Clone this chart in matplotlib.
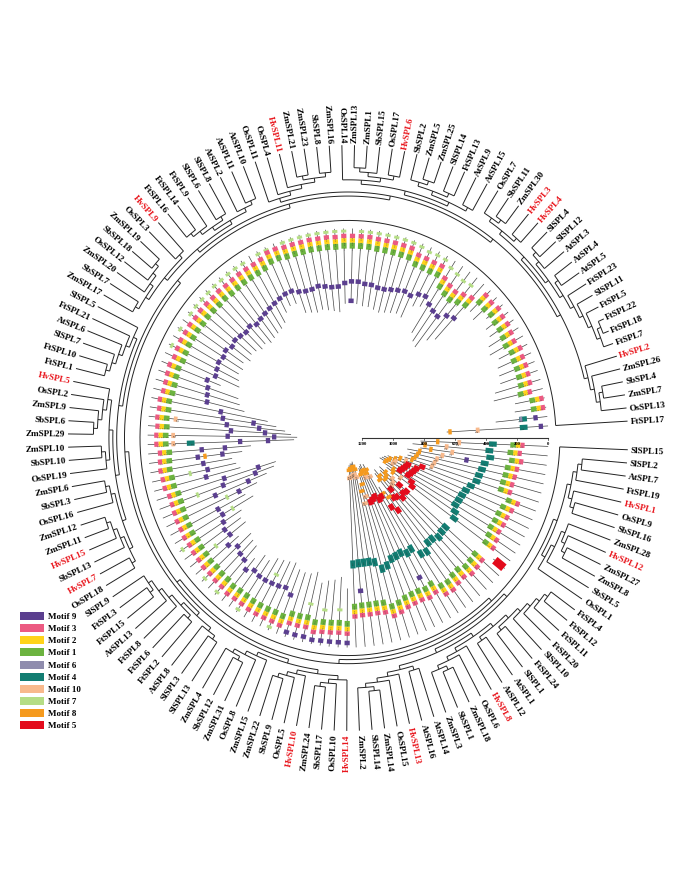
import matplotlib.pyplot as plt
import numpy as np

plt.rcParams['font.family'] = ['Liberation Serif', 'DejaVu Serif']

# ---- tree topology (nested tuples), leaves run clockwise from SlSPL15 to FtSPL17
GA = ((("SlSPL2", "AtSPL7"), "FtSPL19"), ("HvSPL1", ("OsSPL9", "SbSPL16")))
GB = ((("ZmSPL28", ("HvSPL12", ("ZmSPL27", "ZmSPL8"))), "SbSPL5"), "OsSPL1")
GC = (((((("FtSPL4", "FtSPL12"), "FtSPL11"), "FtSPL20"), "SlSPL10"),
       ("FtSPL24", "SlSPL1")), ("AtSPL1", "AtSPL12"))
GD = ("HvSPL8", ("OsSPL6", (("ZmSPL18", "SbSPL1"), "ZmSPL3")))
GE = ("AtSPL14", "AtSPL16")
GF = ("HvSPL13", ("OsSPL15", (("ZmSPL14", "SbSPL14"), "ZmSPL2")))
GG = ("HvSPL14", ("OsSPL10", ("SbSPL17", "ZmSPL24")))
GH = ("HvSPL10", ("OsSPL5", ("SbSPL9", "ZmSPL22")))
GI = ("ZmSPL15", ("OsSPL8", (("ZmSPL31", "SbSPL12"), "ZmSPL4")))
GJ = (("SlSPL13", "SlSPL3"), "AtSPL8")
GK = (("FtSPL2", "FtSPL6"), ("FtSPL8", ("AtSPL13", (("FtSPL15", "FtSPL3"), "SlSPL9"))))
GL = ((("OsSPL18", "HvSPL7"), ("SbSPL13", ("HvSPL15", ("ZmSPL11", "ZmSPL12")))),
      ("OsSPL16", ("SbSPL3", "ZmSPL6")))
GM = (("OsSPL19", ("SbSPL10", "ZmSPL10")), (((("ZmSPL29", "SbSPL6"), "ZmSPL9"), "OsSPL2"), "HvSPL5"))
GN = (((("FtSPL1", "FtSPL10"), "SlSPL7"), "AtSPL6"), "FtSPL21")
GO = ((("ZmSPL17", "SbSPL7"), ("ZmSPL20", ("OsSPL12", ("SbSPL18", "ZmSPL19")))), ("OsSPL3", "HvSPL9"))
GP = (((("FtSPL16", "FtSPL14"), "FtSPL9"), ("SlSPL6", "SlSPL8")), ("AtSPL2", ("AtSPL11", "AtSPL10")))
GQ = ("OsSPL11", ("OsSPL4", ("HvSPL11", (("ZmSPL21", "ZmSPL23"), ("SbSPL8", "ZmSPL16")))))
GR = ("OsSPL14", ((("ZmSPL13", "ZmSPL1"), "SbSPL15"), ("OsSPL17", "HvSPL6")))
GS = ((("SbSPL2", ("ZmSPL5", "ZmSPL25")), ("SlSPL14", "FtSPL13")), ("AtSPL9", "AtSPL15"))
GT = (("OsSPL7", ("SbSPL11", "ZmSPL30")), ("HvSPL3", "HvSPL4"))
GU = ((("SlSPL4", "SlSPL12"), "AtSPL3"),
      (("AtSPL4", "AtSPL5"), ("FtSPL23", ("SlSPL11", ("FtSPL5", (("FtSPL22", "FtSPL18"), "FtSPL7"))))))
GV = ("HvSPL2", ("ZmSPL26", (("SbSPL4", "ZmSPL7"), "OsSPL13")))

TREE = (("SlSPL15",
         (((GA, GB), ((GC, GD), (GE, GF))),
          (((GG, GH), GI),
           ((GJ, GK),
            (((GL, GM), (GN, "SlSPL5")),
             ((GO, GP), (GQ, ((GR, GS), ((GT, GU), GV))))))))),
        "FtSPL17")

# ---- protein lengths (aa) and motif starts (motif@start[+length])
LENGTHS = {
    "SlSPL15": 820, "SlSPL2": 870, "AtSPL7": 818, "FtSPL19": 900, "HvSPL1": 880,
    "OsSPL9": 890, "SbSPL16": 905, "ZmSPL28": 960, "HvSPL12": 1010, "ZmSPL27": 1030,
    "ZmSPL8": 1040, "SbSPL5": 1050, "OsSPL1": 1000, "FtSPL4": 980, "FtSPL12": 90,
    "FtSPL11": 1020, "FtSPL20": 1000, "SlSPL10": 990, "FtSPL24": 1030, "SlSPL1": 1010,
    "AtSPL1": 881, "AtSPL12": 927, "HvSPL8": 1100, "OsSPL6": 1080, "ZmSPL18": 1110,
    "SbSPL1": 1100, "ZmSPL3": 1090, "AtSPL14": 1035, "AtSPL16": 988, "HvSPL13": 1120,
    "OsSPL15": 1140, "ZmSPL14": 1130, "SbSPL14": 1130, "ZmSPL2": 1120, "HvSPL14": 360,
    "OsSPL10": 430, "SbSPL17": 410, "ZmSPL24": 400, "HvSPL10": 380, "OsSPL5": 440,
    "SbSPL9": 420, "ZmSPL22": 415, "ZmSPL15": 420, "OsSPL8": 450, "ZmSPL31": 440,
    "SbSPL12": 430, "ZmSPL4": 420, "SlSPL13": 380, "SlSPL3": 390, "AtSPL8": 333,
    "FtSPL2": 400, "FtSPL6": 410, "FtSPL8": 430, "AtSPL13": 359, "FtSPL15": 450,
    "FtSPL3": 440, "SlSPL9": 470, "OsSPL18": 580, "HvSPL7": 540, "SbSPL13": 640,
    "HvSPL15": 720, "ZmSPL11": 780, "ZmSPL12": 800, "OsSPL16": 570, "SbSPL3": 550,
    "ZmSPL6": 530, "OsSPL19": 600, "SbSPL10": 660, "ZmSPL10": 940, "ZmSPL29": 960,
    "SbSPL6": 920, "ZmSPL9": 880, "OsSPL2": 820, "HvSPL5": 760, "FtSPL1": 600,
    "FtSPL10": 560, "SlSPL7": 540, "AtSPL6": 405, "FtSPL21": 520, "SlSPL5": 500,
    "ZmSPL17": 480, "SbSPL7": 490, "ZmSPL20": 470, "OsSPL12": 500, "SbSPL18": 480,
    "ZmSPL19": 490, "OsSPL3": 510, "HvSPL9": 500, "FtSPL16": 520, "FtSPL14": 510,
    "FtSPL9": 500, "SlSPL6": 490, "SlSPL8": 470, "AtSPL2": 419, "AtSPL11": 393,
    "AtSPL10": 396, "OsSPL11": 470, "OsSPL4": 480, "HvSPL11": 490, "ZmSPL21": 480,
    "ZmSPL23": 490, "SbSPL8": 500, "ZmSPL16": 510, "OsSPL14": 460, "ZmSPL13": 450,
    "ZmSPL1": 460, "SbSPL15": 470, "OsSPL17": 470, "HvSPL6": 480, "SbSPL2": 490,
    "ZmSPL5": 480, "ZmSPL25": 470, "SlSPL14": 460, "FtSPL13": 470, "AtSPL9": 375,
    "AtSPL15": 354, "OsSPL7": 520, "SbSPL11": 560, "ZmSPL30": 580, "HvSPL3": 500,
    "HvSPL4": 460, "SlSPL4": 180, "SlSPL12": 200, "AtSPL3": 131, "AtSPL4": 174,
    "AtSPL5": 181, "FtSPL23": 220, "SlSPL11": 240, "FtSPL5": 200, "FtSPL22": 230,
    "FtSPL18": 240, "FtSPL7": 250, "HvSPL2": 300, "ZmSPL26": 320, "SbSPL4": 190,
    "ZmSPL7": 200, "OsSPL13": 330, "FtSPL17": 650,
}

MOTIFS = {
    "SlSPL15": "3@150 2@178 1@206 4@330 10@560 8@700",
    "SlSPL2": "3@165 2@193 1@221 4@350 10@640 8@780",
    "AtSPL7": "3@150 2@178 1@206 4@340 10@600 8@740",
    "FtSPL19": "3@170 2@198 1@226 4@370 9@500 10@660 8@810",
    "HvSPL1": "3@175 2@203 1@231 4@380 10@690 8@820",
    "OsSPL9": "3@180 2@208 1@236 4@390 10@700 8@830",
    "SbSPL16": "3@180 2@208 1@236 4@395 10@710 8@845",
    "ZmSPL28": "3@110 2@138 1@166 4@420 5@760 10@880 8@920",
    "HvSPL12": "3@130 2@158 1@186 4@440 5@790 5@850 8@950",
    "ZmSPL27": "3@140 2@168 1@196 4@450 5@800 5@860 10@940 8@980",
    "ZmSPL8": "3@140 2@168 1@196 4@455 5@810 5@870 10@950 8@990",
    "SbSPL5": "3@145 2@173 1@201 4@460 5@820 5@880 8@1000",
    "OsSPL1": "3@130 2@158 1@186 4@440 5@780 8@930",
    "FtSPL4": "3@120 2@148 1@176 4@420 5@760 10@860 8@920",
    "FtSPL12": "5@5+75",
    "FtSPL11": "3@130 2@158 1@186 4@430 5@770 5@830 10@900 8@960",
    "FtSPL20": "3@125 2@153 1@181 4@430 5@780 10@880 8@940",
    "SlSPL10": "3@120 2@148 1@176 4@420 5@760 10@870 8@930",
    "FtSPL24": "3@140 2@168 1@196 4@440 5@790 5@850 8@970",
    "SlSPL1": "3@135 2@163 1@191 4@440 5@800 8@950",
    "AtSPL1": "3@120 2@148 1@176 4@400 5@720 8@830",
    "AtSPL12": "3@125 2@153 1@181 4@410 5@760 8@870",
    "HvSPL8": "3@170 2@198 1@226 4@470 5@850 10@1000 8@1050",
    "OsSPL6": "3@160 2@188 1@216 9@300 4@460 5@840 8@1030",
    "ZmSPL18": "3@170 2@198 1@226 4@480 5@870 10@1010 8@1060",
    "SbSPL1": "3@170 2@198 1@226 4@475 5@860 8@1050",
    "ZmSPL3": "3@165 2@193 1@221 4@470 5@850 8@1040",
    "AtSPL14": "3@150 2@178 1@206 4@440 10@900 8@980",
    "AtSPL16": "3@140 2@168 1@196 4@430 10@860 8@940",
    "HvSPL13": "3@175 2@203 1@231 4@480 10@1030 8@1080",
    "OsSPL15": "3@180 2@208 1@236 4@490 10@1050 8@1100",
    "ZmSPL14": "3@180 2@208 1@236 4@490 10@1040 8@1090",
    "SbSPL14": "3@180 2@208 1@236 9@330 4@490 10@1040 8@1090",
    "ZmSPL2": "3@175 2@203 1@231 4@485 10@1030 8@1080",
    "HvSPL14": "9@12 3@70 2@98 1@126",
    "OsSPL10": "9@15 3@75 2@103 1@131 7@220",
    "SbSPL17": "9@15 3@72 2@100 1@128",
    "ZmSPL24": "9@14 3@70 2@98 1@126 7@210",
    "HvSPL10": "9@10 3@60 2@88 1@116",
    "OsSPL5": "9@18 3@80 2@108 1@136 7@230",
    "SbSPL9": "9@15 3@75 2@103 1@131",
    "ZmSPL22": "9@15 3@74 2@102 1@130",
    "ZmSPL15": "3@40 2@68 1@96 9@240",
    "OsSPL8": "7@10 3@45 2@73 1@101 9@270",
    "ZmSPL31": "3@42 2@70 1@98 9@260",
    "SbSPL12": "3@40 2@68 1@96 9@255 7@320",
    "ZmSPL4": "3@40 2@68 1@96 9@250",
    "SlSPL13": "7@8 3@45 2@73 1@101 9@250",
    "SlSPL3": "3@45 2@73 1@101 9@260",
    "AtSPL8": "3@40 2@68 1@96 9@230",
    "FtSPL2": "7@10 3@50 2@78 1@106 9@270",
    "FtSPL6": "3@50 2@78 1@106 9@280",
    "FtSPL8": "7@15 3@55 2@83 1@111 9@300",
    "AtSPL13": "3@50 2@78 1@106 9@260",
    "FtSPL15": "3@55 2@83 1@111 7@200 9@310",
    "FtSPL3": "3@55 2@83 1@111 9@300",
    "SlSPL9": "7@12 3@60 2@88 1@116 9@320",
    "OsSPL18": "3@55 2@83 1@111 9@340 7@420",
    "HvSPL7": "3@60 2@88 1@116 9@330",
    "SbSPL13": "3@60 2@88 1@116 7@420 9@500",
    "HvSPL15": "3@65 2@93 1@121 9@350 9@580",
    "ZmSPL11": "3@70 2@98 1@126 7@250 9@420 9@640",
    "ZmSPL12": "3@70 2@98 1@126 9@440 9@670",
    "OsSPL16": "3@55 2@83 1@111 9@330",
    "SbSPL3": "3@55 2@83 1@111 7@240 9@350",
    "ZmSPL6": "3@50 2@78 1@106 9@330",
    "OsSPL19": "3@55 2@83 1@111 9@300 8@350 9@460",
    "SbSPL10": "3@60 2@88 1@116 9@330 9@480",
    "ZmSPL10": "3@40 2@68 1@96 10@150 4@250 9@580 9@760",
    "ZmSPL29": "3@40 2@68 1@96 10@150 9@500 9@800",
    "SbSPL6": "3@45 2@73 1@101 9@520 9@740",
    "ZmSPL9": "3@40 2@68 1@96 10@160 9@490 9@700",
    "OsSPL2": "3@45 2@73 1@101 9@460 9@660",
    "HvSPL5": "3@40 2@68 1@96 9@440",
    "FtSPL1": "3@50 2@78 1@106 9@340",
    "FtSPL10": "3@50 2@78 1@106 9@330",
    "SlSPL7": "3@45 2@73 1@101 9@320",
    "AtSPL6": "3@40 2@68 1@96 9@300",
    "FtSPL21": "3@50 2@78 1@106 9@340",
    "SlSPL5": "7@10 3@45 2@73 1@101 9@330",
    "ZmSPL17": "3@40 2@68 1@96 9@320",
    "SbSPL7": "7@8 3@42 2@70 1@98 9@330",
    "ZmSPL20": "3@40 2@68 1@96 9@320",
    "OsSPL12": "7@10 3@45 2@73 1@101 9@340",
    "SbSPL18": "7@8 3@42 2@70 1@98 9@330",
    "ZmSPL19": "7@10 3@45 2@73 1@101 9@340",
    "OsSPL3": "7@10 3@48 2@76 1@104 9@350",
    "HvSPL9": "7@8 3@45 2@73 1@101 9@340",
    "FtSPL16": "7@10 3@50 2@78 1@106 9@360",
    "FtSPL14": "7@8 3@48 2@76 1@104 9@350",
    "FtSPL9": "7@8 3@45 2@73 1@101 9@340",
    "SlSPL6": "7@10 3@45 2@73 1@101 9@330",
    "SlSPL8": "3@45 2@73 1@101 9@320",
    "AtSPL2": "7@8 3@40 2@68 1@96 9@310",
    "AtSPL11": "7@8 3@20 2@48 1@76 9@300",
    "AtSPL10": "3@20 2@48 1@76 9@300",
    "OsSPL11": "7@5 3@30 2@58 1@86 9@320",
    "OsSPL4": "7@5 3@30 2@58 1@86 9@330",
    "HvSPL11": "7@5 3@32 2@60 1@88 9@330",
    "ZmSPL21": "7@5 3@30 2@58 1@86 9@320",
    "ZmSPL23": "7@5 3@32 2@60 1@88 9@330",
    "SbSPL8": "7@5 3@32 2@60 1@88 9@340",
    "ZmSPL16": "7@5 3@35 2@63 1@91 9@340",
    "OsSPL14": "7@5 3@30 2@58 1@86 9@320",
    "ZmSPL13": "3@30 2@58 1@86 9@310 9@430",
    "ZmSPL1": "7@5 3@30 2@58 1@86 9@310",
    "SbSPL15": "7@5 3@30 2@58 1@86 9@320",
    "OsSPL17": "7@5 3@35 2@63 1@91 9@320",
    "HvSPL6": "7@5 3@35 2@63 1@91 9@330",
    "SbSPL2": "7@5 3@35 2@63 1@91 9@330",
    "ZmSPL5": "7@5 3@35 2@63 1@91 9@320",
    "ZmSPL25": "7@5 3@35 2@63 1@91 9@310",
    "SlSPL14": "7@10 3@60 2@88 1@116 9@300",
    "FtSPL13": "7@20 3@60 2@88 1@116 9@310",
    "AtSPL9": "7@15 3@60 2@88 1@116 9@280",
    "AtSPL15": "7@15 3@55 2@83 1@111 9@270",
    "OsSPL7": "7@40 3@110 2@138 1@166 9@300",
    "SbSPL11": "7@50 3@130 2@158 1@186 9@320",
    "ZmSPL30": "7@60 3@140 2@168 1@196 9@330",
    "HvSPL3": "7@50 3@120 2@148 1@176 9@290",
    "HvSPL4": "3@100 2@128 1@156 9@270",
    "SlSPL4": "3@25 2@53 1@81",
    "SlSPL12": "3@30 2@58 1@86",
    "AtSPL3": "3@20 2@48 1@76",
    "AtSPL4": "3@30 2@58 1@86",
    "AtSPL5": "3@30 2@58 1@86",
    "FtSPL23": "3@40 2@68 1@96",
    "SlSPL11": "3@50 2@78 1@106",
    "FtSPL5": "3@35 2@63 1@91",
    "FtSPL22": "3@45 2@73 1@101",
    "FtSPL18": "3@45 2@73 1@101",
    "FtSPL7": "3@50 2@78 1@106",
    "HvSPL2": "3@55 2@83 1@111",
    "ZmSPL26": "3@70 2@98 1@126",
    "SbSPL4": "3@5 2@33 1@61",
    "ZmSPL7": "3@5 2@33 1@61",
    "OsSPL13": "9@60 4@130 6@160",
    "FtSPL17": "9@30 4@130 10@440 8@620",
}

MOTIF_ORDER = [9, 3, 2, 1, 6, 4, 10, 7, 8, 5]
MOTIF_COLORS = {9: '#5b3f8f', 3: '#ec5a82', 2: '#ffd31a', 1: '#6cb33f', 6: '#8f8cad',
                4: '#127d72', 10: '#f8b98c', 7: '#b5dd85', 8: '#f59a1e', 5: '#e30b1c'}
MOTIF_AA = {9: 28, 3: 28, 2: 28, 1: 36, 6: 18, 4: 50, 10: 24, 7: 18, 8: 22, 5: 40}
SCALE_TICKS = [1200, 1000, 800, 600, 400, 200, 0]

# ---- geometry (pixel coordinates)
CX, CY, SY = 348, 439, 1.046
R0, S = 200, 0.155          # outer end of protein lines, px per aa
R_ROOT, R_LEAF, R_LABEL = 208, 280, 283
A_START, A_END = -2.3, -356.7


def pos(r, a):
    t = np.radians(a)
    return CX + r * np.cos(t), CY - SY * r * np.sin(t)


def disp_angle(a):
    x0, y0 = pos(0, a)
    x1, y1 = pos(1, a)
    return np.degrees(np.arctan2(-(y1 - y0), x1 - x0))


def leaf_list(node):
    if isinstance(node, str):
        return [node]
    out = []
    for c in node:
        out += leaf_list(c)
    return out


def max_depth(node):
    if isinstance(node, str):
        return -1
    return 1 + max(max_depth(c) for c in node)


leaves = leaf_list(TREE)
n = len(leaves)
angle = {name: A_START + (A_END - A_START) * k / (n - 1) for k, name in enumerate(leaves)}
dr = (R_LEAF - 6 - R_ROOT) / max_depth(TREE)

fig = plt.figure(figsize=(6.85, 8.95), dpi=100)
ax = fig.add_axes([0, 0, 1, 1])
ax.set_xlim(0, 685)
ax.set_ylim(895, 0)
ax.axis('off')

TREE_KW = dict(color='#222222', lw=0.7, solid_capstyle='butt')


def draw_node(node, depth):
    if isinstance(node, str):
        return angle[node], None
    r = R_ROOT + depth * dr
    kids = [draw_node(c, depth + 1) for c in node]
    for a, rc in kids:
        x0, y0 = pos(r, a)
        x1, y1 = pos(rc if rc is not None else R_LEAF, a)
        ax.plot([x0, x1], [y0, y1], **TREE_KW)
    angs = [a for a, _ in kids]
    t = np.linspace(min(angs), max(angs), max(3, int(abs(max(angs) - min(angs)) * 2)))
    xs, ys = pos(r, t)
    ax.plot(xs, ys, **TREE_KW)
    return (angs[0] + angs[-1]) / 2, r


draw_node(TREE, 0)

# leaf labels
for name in leaves:
    a = angle[name]
    rot = disp_angle(a)
    am = a % 360
    ha = 'left'
    if 90 < am < 270:
        rot += 180
        ha = 'right'
    x, y = pos(R_LABEL, a)
    ax.text(x, y, name, rotation=rot, rotation_mode='anchor', ha=ha, va='center',
            fontsize=6.6, fontweight='bold',
            color='#e8141b' if name.startswith('Hv') else 'black')


# motif tracks
def motif_box(a, start, length, m, w=5.2):
    r1 = R0 - start * S
    r2 = R0 - (start + length) * S
    x1, y1 = pos(r1, a)
    x2, y2 = pos(r2, a)
    ux, uy = x2 - x1, y2 - y1
    ln = np.hypot(ux, uy)
    nx, ny = -uy / ln * w / 2, ux / ln * w / 2
    pts = [(x1 + nx, y1 + ny), (x2 + nx, y2 + ny), (x2 - nx, y2 - ny), (x1 - nx, y1 - ny)]
    ax.add_patch(plt.Polygon(pts, closed=True, facecolor=MOTIF_COLORS[m],
                             edgecolor='none', zorder=3))
    if m in (1, 2, 3, 4, 6, 10):
        ax.text((x1 + x2) / 2, (y1 + y2) / 2, str(m), fontsize=1.8, ha='center',
                va='center', rotation=disp_angle(a) + 90, color='#333333', zorder=4)


for name in leaves:
    a = angle[name]
    x0, y0 = pos(R0, a)
    x1, y1 = pos(R0 - LENGTHS[name] * S, a)
    ax.plot([x0, x1], [y0, y1], color='#444444', lw=0.5, zorder=2)
    for tok in MOTIFS[name].split():
        m, rest = tok.split('@')
        m = int(m)
        if '+' in rest:
            st, ln = rest.split('+')
            motif_box(a, float(st), float(ln), m, w=8.5)
        else:
            motif_box(a, float(rest), MOTIF_AA[m], m)

# scale bar along the gap at 0 degrees
bx0, by = pos(R0, 0)
bx1, _ = pos(R0 - 1200 * S, 0)
ax.plot([bx1, bx0], [by, by], color='#333333', lw=0.8)
for v in SCALE_TICKS:
    tx = bx0 - v * S
    ax.plot([tx, tx], [by, by + 2], color='#333333', lw=0.5)
    ax.text(tx, by + 3.2, str(v), fontsize=3.4, ha='center', va='top', fontweight='bold')

# legend
for i, m in enumerate(MOTIF_ORDER):
    yc = 617 + i * 12.15
    ax.add_patch(plt.Rectangle((20, yc - 4), 24, 8, facecolor=MOTIF_COLORS[m], edgecolor='none'))
    ax.text(48, yc, f'Motif {m}', fontsize=6.5, fontweight='bold', va='center', ha='left')

fig.savefig('out.png', dpi=100)
